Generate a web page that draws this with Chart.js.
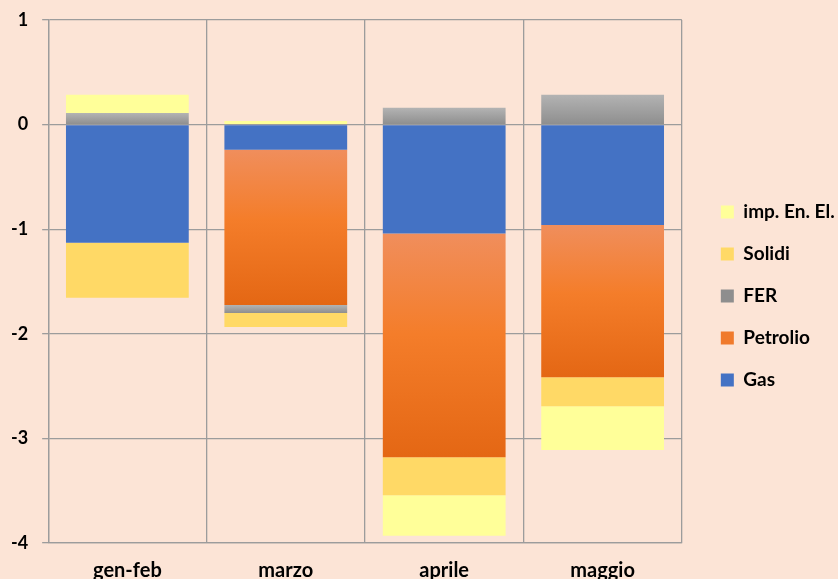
<!DOCTYPE html>
<html>
<head>
<meta charset="utf-8">
<script src="https://cdn.jsdelivr.net/npm/chart.js@4/dist/chart.umd.min.js"></script>
<style>
  html, body { margin: 0; padding: 0; background: #FCE4D6; }
  #wrap { width: 838px; height: 579px; }
</style>
</head>
<body>
<div id="wrap"><canvas id="c" width="838" height="579"></canvas></div>
<script>
const categories = ['gen-feb', 'marzo', 'aprile', 'maggio'];
const gas      = [-1.13, -0.24, -1.04, -0.96];
const petrolio = [0, -1.485, -2.14, -1.455];
const fer      = [0.11, -0.077, 0.16, 0.285];
const solidi   = [-0.525, -0.134, -0.364, -0.278];
const impEnEl  = [0.175, 0.035, -0.386, -0.418];
const yTicks   = [1, 0, -1, -2, -3, -4];

const FONT = 'Lato, "Open Sans", sans-serif';

function segGradient(stops, fallback) {
  return function (ctx) {
    if (ctx.type !== 'data') return fallback;
    const chart = ctx.chart;
    const y = chart.scales.y;
    if (!y) return fallback;
    const i = ctx.datasetIndex, j = ctx.dataIndex;
    const v = chart.data.datasets[i].data[j];
    let base = 0;
    for (let k = 0; k < i; k++) {
      const w = chart.data.datasets[k].data[j];
      if ((w < 0) === (v < 0)) base += w;
    }
    const p1 = y.getPixelForValue(base), p2 = y.getPixelForValue(base + v);
    const top = Math.min(p1, p2), bot = Math.max(p1, p2);
    if (!isFinite(top) || !isFinite(bot) || bot - top < 1) return fallback;
    const g = chart.ctx.createLinearGradient(0, top, 0, bot);
    stops.forEach(s => g.addColorStop(s[0], s[1]));
    return g;
  };
}

const orangeStops = [[0, '#F08E5C'], [0.45, '#F47D2A'], [1, '#E46714']];
const greyStops = [[0, '#B3B3B3'], [1, '#8E8E8E']];

const GRID = '#9C9C9C';

new Chart(document.getElementById('c'), {
  type: 'bar',
  data: {
    labels: categories,
    datasets: [
      { label: 'Gas', data: gas, backgroundColor: '#4472C4' },
      { label: 'Petrolio', data: petrolio, backgroundColor: segGradient(orangeStops, '#F07A2C') },
      { label: 'FER', data: fer, backgroundColor: segGradient(greyStops, '#A0A0A0') },
      { label: 'Solidi', data: solidi, backgroundColor: '#FFD966' },
      { label: 'imp. En. El.', data: impEnEl, backgroundColor: '#FFFF99' }
    ]
  },
  options: {
    responsive: false,
    animation: false,
    devicePixelRatio: 1,
    layout: { padding: { top: 20, left: -3, right: 0, bottom: -20 } },
    datasets: { bar: { categoryPercentage: 1, barPercentage: 0.775, borderWidth: 0 } },
    plugins: {
      tooltip: { enabled: false },
      legend: {
        position: 'right',
        align: 'start',
        reverse: true,
        title: { display: true, text: '', font: { size: 12 }, padding: { top: 145, bottom: 0 } },
        labels: {
          boxWidth: 13,
          boxHeight: 13,
          padding: 23,
          color: '#000',
          font: { family: FONT, size: 19, weight: 'bold' }
        }
      }
    },
    scales: {
      x: {
        stacked: true,
        grid: { color: GRID, lineWidth: 1.3, drawTicks: false, offset: true },
        border: { color: GRID, width: 1.3 },
        ticks: { color: '#000', padding: 16, font: { family: FONT, size: 20, weight: 'bold' } },
        afterFit: s => { s.paddingLeft = 0; s.paddingRight = 0; }
      },
      y: {
        stacked: true,
        min: -4,
        max: 1,
        afterBuildTicks: s => { s.ticks = yTicks.map(v => ({ value: v })); },
        grid: { color: GRID, lineWidth: 1.3, tickLength: 6 },
        border: { color: GRID, width: 1.3 },
        ticks: { color: '#000', padding: 14, font: { family: FONT, size: 18, weight: 'bold' } },
        afterFit: s => { s.paddingTop = 0; s.paddingBottom = 0; }
      },
      gap: {
        type: 'linear',
        position: 'right',
        display: true,
        grid: { display: false },
        border: { display: false },
        ticks: { display: false },
        afterFit: s => { s.width = 16; s.paddingTop = 0; s.paddingBottom = 0; }
      }
    }
  }
});
</script>
</body>
</html>
